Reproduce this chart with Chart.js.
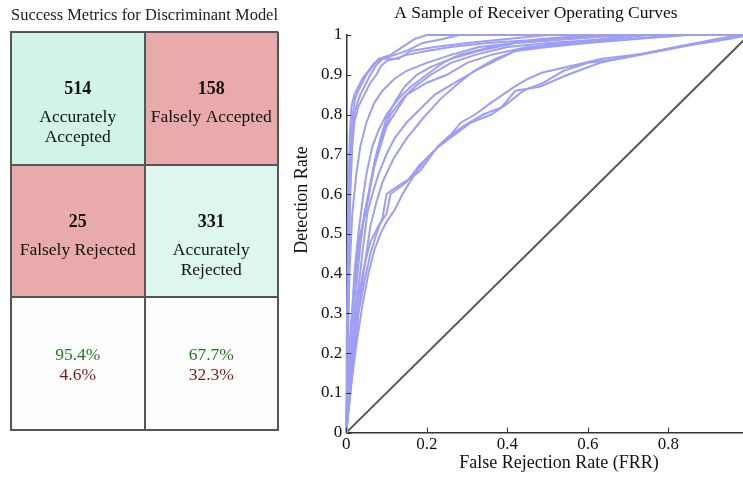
<!DOCTYPE html>
<html>
<head>
<meta charset="utf-8">
<script src="https://cdn.jsdelivr.net/npm/chart.js@4.4.1/dist/chart.umd.min.js"></script>
<style>
    html, body { margin: 0; padding: 0; background: #fff; overflow: hidden; width: 743px; height: 477px; }
    #matrixChart { position: absolute; left: 0; top: 0; }
    #rocChart { position: absolute; left: 290px; top: 0; }
</style>
</head>
<body>
<canvas id="matrixChart" width="290" height="477"></canvas>
<canvas id="rocChart" width="492" height="477"></canvas>
<script>
// Confusion matrix values
const matrixCols = ['Genuine', 'Impostor'];
const countsRow1 = [514, 158];
const countsRow2 = [25, 331];
const labelsRow1 = [['Accurately', 'Accepted'], ['Falsely Accepted']];
const labelsRow2 = [['Falsely Rejected'], ['Accurately', 'Rejected']];
const correctRates = ['95.4%', '67.7%'];
const errorRates = ['4.6%', '32.3%'];

// ROC curves, [false rejection rate, detection rate] pairs
const curveA1 = [[0,0],[0.002,0.1],[0.004,0.3],[0.006,0.5],[0.008,0.62],[0.012,0.72],[0.016,0.8],[0.022,0.84],[0.03,0.86],[0.04,0.88],[0.05,0.9],[0.065,0.92],[0.08,0.94],[0.11,0.95],[0.14,0.97],[0.17,0.99],[0.2,1],[1,1]];
const curveA2 = [[0,0],[0.003,0.15],[0.005,0.35],[0.008,0.55],[0.011,0.68],[0.015,0.75],[0.02,0.8],[0.028,0.83],[0.035,0.85],[0.045,0.87],[0.06,0.9],[0.075,0.925],[0.09,0.94],[0.12,0.95],[0.15,0.96],[0.19,0.98],[0.24,0.99],[0.28,1],[1,1]];
const curveA3 = [[0,0],[0.001,0.2],[0.003,0.4],[0.005,0.6],[0.009,0.75],[0.013,0.82],[0.02,0.85],[0.03,0.87],[0.04,0.89],[0.055,0.91],[0.07,0.93],[0.09,0.94],[0.13,0.94],[0.16,0.96],[0.22,0.97],[0.3,0.98],[0.4,0.99],[0.5,1],[1,1]];
const curveA4 = [[0,0],[0.004,0.2],[0.007,0.45],[0.01,0.6],[0.015,0.72],[0.02,0.78],[0.03,0.82],[0.04,0.84],[0.05,0.86],[0.06,0.88],[0.075,0.9],[0.085,0.92],[0.1,0.935],[0.12,0.94],[0.15,0.95],[0.2,0.96],[0.26,0.97],[0.35,0.98],[0.5,0.99],[0.65,1],[1,1]];
const curveB1 = [[0,0],[0.005,0.1],[0.01,0.2],[0.015,0.3],[0.02,0.4],[0.03,0.5],[0.04,0.58],[0.05,0.65],[0.065,0.72],[0.08,0.76],[0.1,0.8],[0.13,0.84],[0.16,0.87],[0.2,0.9],[0.24,0.93],[0.28,0.95],[0.36,0.97],[0.48,0.99],[0.62,1],[1,1]];
const curveB2 = [[0,0],[0.006,0.08],[0.012,0.18],[0.02,0.3],[0.028,0.4],[0.036,0.48],[0.045,0.55],[0.06,0.62],[0.075,0.7],[0.09,0.75],[0.11,0.8],[0.14,0.84],[0.17,0.87],[0.21,0.9],[0.26,0.93],[0.32,0.95],[0.4,0.97],[0.5,0.98],[0.65,0.99],[0.75,1],[1,1]];
const curveB3 = [[0,0],[0.008,0.1],[0.015,0.2],[0.022,0.28],[0.03,0.36],[0.04,0.45],[0.052,0.55],[0.065,0.6],[0.08,0.65],[0.1,0.7],[0.12,0.74],[0.15,0.78],[0.18,0.81],[0.22,0.85],[0.27,0.88],[0.32,0.91],[0.42,0.96],[0.52,0.98],[0.7,0.99],[0.82,1],[1,1]];
const curveB4 = [[0,0],[0.004,0.12],[0.01,0.25],[0.018,0.35],[0.025,0.44],[0.035,0.5],[0.05,0.56],[0.06,0.62],[0.07,0.67],[0.085,0.72],[0.1,0.77],[0.125,0.81],[0.15,0.85],[0.2,0.88],[0.25,0.9],[0.3,0.93],[0.36,0.95],[0.45,0.97],[0.58,0.98],[0.7,1],[1,1]];
const curveB5 = [[0,0],[0.01,0.1],[0.02,0.2],[0.03,0.3],[0.04,0.38],[0.05,0.45],[0.06,0.52],[0.075,0.58],[0.09,0.63],[0.118,0.69],[0.15,0.74],[0.19,0.79],[0.235,0.84],[0.28,0.88],[0.318,0.91],[0.37,0.94],[0.42,0.96],[0.5,0.97],[0.6,0.98],[0.72,0.99],[0.85,1],[1,1]];
const curveB6 = [[0,0],[0.007,0.15],[0.013,0.27],[0.02,0.36],[0.03,0.45],[0.04,0.52],[0.055,0.6],[0.07,0.68],[0.085,0.74],[0.1,0.79],[0.12,0.83],[0.145,0.87],[0.175,0.9],[0.21,0.92],[0.26,0.94],[0.33,0.96],[0.42,0.98],[0.55,0.99],[0.68,1],[1,1]];
const curveB7 = [[0,0],[0.003,0.2],[0.008,0.4],[0.015,0.55],[0.025,0.65],[0.035,0.72],[0.05,0.78],[0.07,0.83],[0.09,0.86],[0.12,0.89],[0.15,0.91],[0.2,0.93],[0.26,0.95],[0.33,0.97],[0.42,0.98],[0.55,0.99],[0.7,1],[1,1]];
const curveC1 = [[0,0],[0.01,0.1],[0.02,0.2],[0.03,0.3],[0.045,0.38],[0.06,0.45],[0.075,0.5],[0.09,0.54],[0.1,0.6],[0.128,0.62],[0.16,0.64],[0.185,0.66],[0.227,0.72],[0.26,0.75],[0.285,0.78],[0.32,0.8],[0.36,0.83],[0.418,0.87],[0.452,0.89],[0.485,0.905],[0.55,0.92],[0.635,0.94],[0.735,0.952],[0.82,0.97],[0.92,0.985],[0.97,1],[1,1]];
const curveC2 = [[0,0],[0.012,0.12],[0.025,0.22],[0.04,0.32],[0.055,0.4],[0.07,0.46],[0.085,0.5],[0.1,0.53],[0.12,0.56],[0.14,0.6],[0.17,0.65],[0.2,0.69],[0.23,0.72],[0.27,0.75],[0.31,0.78],[0.36,0.8],[0.385,0.817],[0.42,0.86],[0.48,0.87],[0.55,0.9],[0.63,0.93],[0.72,0.95],[0.82,0.97],[0.92,0.99],[0.98,1],[1,1]];
const curveC3 = [[0,0],[0.008,0.1],[0.018,0.22],[0.03,0.34],[0.045,0.42],[0.06,0.48],[0.08,0.52],[0.1,0.55],[0.11,0.6],[0.15,0.63],[0.18,0.67],[0.21,0.7],[0.25,0.74],[0.29,0.77],[0.34,0.8],[0.39,0.82],[0.44,0.86],[0.49,0.88],[0.54,0.91],[0.6,0.93],[0.68,0.94],[0.78,0.96],[0.88,0.98],[0.95,0.99],[1,1]];
const chanceLine = [[0,0],[1,1]];

const rocCurves = [curveA1, curveA2, curveA3, curveA4, curveB1, curveB2, curveB3, curveB4, curveB5, curveB6, curveB7, curveC1, curveC2, curveC3];
const xTicks = [0, 0.2, 0.4, 0.6, 0.8, 1];

const serif = 'Liberation Serif';
const fmt = v => Number(v.toFixed(1)).toString();

// ---------- left panel: the confusion matrix ----------
const mint = '#d2f4e6';
const mintLight = '#ddf7ee';
const rose = '#e9aaab';
const blank = '#fdfdfd';

const cellText = {
    id: 'cellText',
    afterDraw(chart) {
        const { ctx, scales: { x, y } } = chart;
        ctx.save();
        ctx.textAlign = 'center';
        ctx.textBaseline = 'middle';
        matrixCols.forEach((c, i) => {
            const cx = x.getPixelForValue(i);
            // row 1 and row 2: count plus label
            [[countsRow1, labelsRow1, 3], [countsRow2, labelsRow2, 2]].forEach(([counts, labels, top]) => {
                const ty = y.getPixelForValue(top);
                ctx.fillStyle = '#111';
                ctx.font = 'bold 18px "' + serif + '"';
                ctx.fillText(String(counts[i]), cx, ty + 58);
                ctx.font = '17.5px "' + serif + '"';
                labels[i].forEach((line, k) => ctx.fillText(line, cx, ty + 86 + k * 20));
            });
            const ty = y.getPixelForValue(1);
            ctx.font = '17.5px "' + serif + '"';
            ctx.fillStyle = '#1f7a1f';
            ctx.fillText(correctRates[i], cx, ty + 58);
            ctx.fillStyle = '#7a1c1c';
            ctx.fillText(errorRates[i], cx, ty + 78);
        });
        ctx.restore();
    }
};

new Chart(document.getElementById('matrixChart'), {
    type: 'bar',
    data: {
        labels: matrixCols,
        datasets: [
            { data: [1, 1], backgroundColor: [blank, blank] },
            { data: [1, 1], backgroundColor: [rose, mintLight] },
            { data: [1, 1], backgroundColor: [mint, rose] }
        ]
    },
    options: {
        responsive: false,
        animation: false,
        devicePixelRatio: 1,
        layout: { padding: { left: 11, right: 12, top: 0, bottom: 47 } },
        datasets: { bar: { barPercentage: 1, categoryPercentage: 1, borderWidth: 0 } },
        plugins: {
            legend: { display: false },
            tooltip: { enabled: false },
            title: {
                display: true,
                text: 'Success Metrics for Discriminant Model',
                color: '#222',
                font: { family: serif, size: 17.3, weight: 'normal' },
                padding: { top: 5, bottom: 6 }
            }
        },
        scales: {
            x: {
                stacked: true,
                z: 1,
                offset: true,
                grid: { offset: true, color: '#555', lineWidth: 2, drawTicks: false, z: 1 },
                border: { display: true, color: '#555', width: 2, z: 1 },
                ticks: { display: false }
            },
            y: {
                stacked: true,
                z: 1,
                min: 0,
                max: 3,
                grid: { color: '#555', lineWidth: 2, drawTicks: false, z: 1 },
                border: { display: true, color: '#555', width: 2, z: 1 },
                ticks: { display: false, stepSize: 1 }
            }
        }
    },
    plugins: [cellText]
});

// ---------- right panel: ROC curves ----------
const rocTitle = 'A Sample of Receiver Operating Curves';
const rocXTitle = 'False Rejection Rate (FRR)';
const rocYTitle = 'Detection Rate';

// ticks pointing into the plot, plus the title texts
const rocDecor = {
    id: 'rocDecor',
    afterDraw(chart) {
        const { ctx, chartArea, scales: { x, y } } = chart;
        ctx.save();
        ctx.strokeStyle = '#333';
        ctx.lineWidth = 1;
        x.ticks.forEach(t => {
            const px = Math.round(x.getPixelForValue(t.value)) + 0.5;
            ctx.beginPath();
            ctx.moveTo(px, chartArea.bottom);
            ctx.lineTo(px, chartArea.bottom - 5);
            ctx.stroke();
        });
        y.ticks.forEach(t => {
            const py = Math.round(y.getPixelForValue(t.value)) + 0.5;
            ctx.beginPath();
            ctx.moveTo(chartArea.left, py);
            ctx.lineTo(chartArea.left + 5, py);
            ctx.stroke();
        });

        ctx.fillStyle = '#111';
        ctx.textAlign = 'center';
        ctx.textBaseline = 'middle';
        ctx.font = '17.5px "' + serif + '"';
        ctx.fillText(rocTitle, 246, 13);
        ctx.font = '18px "' + serif + '"';
        ctx.fillText(rocXTitle, 269, 463);
        ctx.translate(12, 200);
        ctx.rotate(-Math.PI / 2);
        ctx.fillText(rocYTitle, 0, 0);
        ctx.restore();
    }
};

const toPoints = arr => arr.map(p => ({ x: p[0], y: p[1] }));

const rocDatasets = rocCurves.map(c => ({
    data: toPoints(c),
    borderColor: '#9e9ef5',
    borderWidth: 2,
    pointRadius: 0,
    showLine: true,
    clip: 4
}));
rocDatasets.push({
    data: toPoints(chanceLine),
    borderColor: '#555',
    borderWidth: 2,
    pointRadius: 0,
    showLine: true,
    clip: 4
});

new Chart(document.getElementById('rocChart'), {
    type: 'scatter',
    data: { datasets: rocDatasets },
    options: {
        responsive: false,
        animation: false,
        devicePixelRatio: 1,
        layout: { padding: { left: 27, right: 33, top: 35, bottom: 20 } },
        plugins: {
            legend: { display: false },
            tooltip: { enabled: false }
        },
        scales: {
            x: {
                type: 'linear',
                min: 0,
                max: 1,
                afterBuildTicks: s => { s.ticks = xTicks.map(v => ({ value: v })); },
                grid: { display: false, drawTicks: false },
                border: { display: true, color: '#333', width: 1.5 },
                ticks: { color: '#111', padding: 2, maxRotation: 0, font: { family: serif, size: 17 }, callback: fmt }
            },
            y: {
                type: 'linear',
                min: 0,
                max: 1,
                grid: { display: false, drawTicks: false },
                border: { display: true, color: '#333', width: 1.5 },
                ticks: { color: '#111', padding: 4, stepSize: 0.1, font: { family: serif, size: 17 }, callback: fmt }
            }
        }
    },
    plugins: [rocDecor]
});
</script>
</body>
</html>
